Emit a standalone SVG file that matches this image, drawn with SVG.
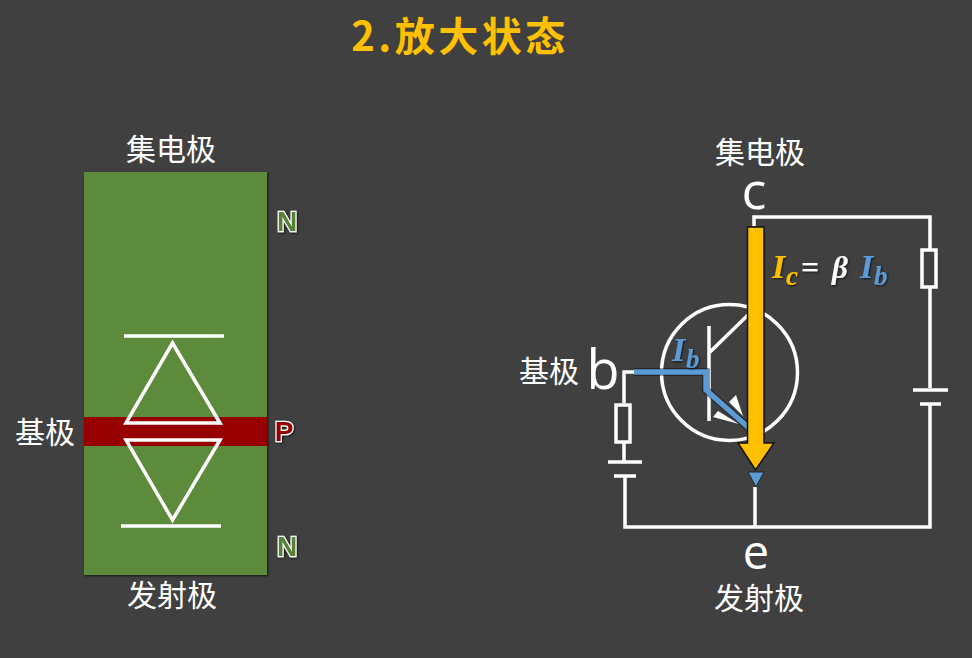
<svg xmlns="http://www.w3.org/2000/svg" width="972" height="658" viewBox="0 0 972 658">
<defs>
<filter id="sh" x="-40%" y="-40%" width="180%" height="180%"><feDropShadow dx="1" dy="1" stdDeviation="1.2" flood-color="#000" flood-opacity="0.7"/></filter>
</defs>
<style>
.w{fill:none;stroke:#fff;stroke-width:3.5}
.t{font-family:"Noto Sans CJK SC","Noto Sans CJK JP",sans-serif;font-size:30px;fill:#fff;text-anchor:middle}
.l{font-family:"Open Sans","Noto Sans",sans-serif;fill:#fff;text-anchor:middle}
.m{font-family:"Liberation Serif",serif;font-style:italic;font-weight:bold;filter:url(#sh)}
.pn{font-family:"Liberation Sans",sans-serif;font-weight:bold;font-size:28px;text-anchor:middle;stroke:#fff;stroke-width:2.5;paint-order:stroke;filter:url(#sh)}
</style>
<rect width="972" height="658" fill="#404040"/>
<text id="title" x="460" y="51" font-family="'Noto Sans CJK SC',sans-serif" font-size="40" font-weight="700" letter-spacing="3.500" fill="#ffc000" text-anchor="middle">2.放大状态</text>
<g id="pn-block">
<rect x="84" y="172" width="183" height="403" fill="#5b8c3a" filter="url(#sh)"/>
<rect x="84" y="417" width="183" height="29" fill="#960000"/>
<path class="w" d="M124 336H224M172.500 343L220 423H126ZM172.500 520L220 440H126ZM121 526H221"/>
</g>
<g id="labels-left">
<text class="t" x="171" y="160">集电极</text>
<text class="t" x="45" y="443">基极</text>
<text class="t" x="172" y="606">发射极</text>
<text class="pn" x="287" y="231" fill="#548235">N</text>
<text class="pn" x="284" y="441" fill="#960000">P</text>
<text class="pn" x="287" y="556" fill="#548235">N</text>
</g>
<g id="connectors">
<path class="w" d="M754 226V217H930V250M930 287V388M913 390H948M920 404H941M930 404V527H625V476M624 443V462M624 403V372H634M608 462H642M614 476H636M755 487V527"/>
<rect class="w" x="922" y="250" width="14" height="37"/>
<rect class="w" x="616" y="405" width="14" height="37"/>
</g>
<g id="transistor">
<circle class="w" cx="729.500" cy="372.500" r="68"/>
<path class="w" d="M709 326V421M709 353L750 313"/>
<path d="M736 395L729 402L743 416Z M713 417L718 411L739 424Z" fill="#fff"/>
<path d="M634 372H706V390L749 428" fill="none" stroke="#000" stroke-opacity=".5" stroke-width="7.500"/>
<path d="M634 372H706V390L749 428" fill="none" stroke="#5b9bd5" stroke-width="5.500"/>
<path d="M747.500 227H764V443H774L755.500 470L738 443H747.500Z" fill="#ffc000" stroke="#111" stroke-width="1.500"/>
<path d="M748 472H764L756 487Z" fill="#5b9bd5" stroke="#222"/>
</g>
<g id="labels-right">
<text class="t" x="760" y="163">集电极</text>
<text class="t" x="549" y="382">基极</text>
<text class="t" x="759" y="609">发射极</text>
<text class="l" x="754" y="209" font-size="52">c</text>
<text class="l" x="603" y="389" font-size="54">b</text>
<text class="l" x="756" y="569" font-size="47">e</text>
<text class="m" x="772" y="278" font-size="34" fill="#ffc000">I</text>
<text class="m" x="786" y="285" font-size="27" fill="#ffc000">c</text>
<text class="m" x="801" y="278" font-size="32" fill="#fff" style="font-style:normal">=</text>
<text class="m" x="832" y="278" font-size="31" fill="#fff">β</text>
<text class="m" x="860" y="278" font-size="34" fill="#5b9bd5">I</text>
<text class="m" x="874" y="285" font-size="27" fill="#5b9bd5">b</text>
<text class="m" x="672" y="361" font-size="34" fill="#5b9bd5">I</text>
<text class="m" x="686" y="368" font-size="27" fill="#5b9bd5">b</text>
</g>
</svg>
